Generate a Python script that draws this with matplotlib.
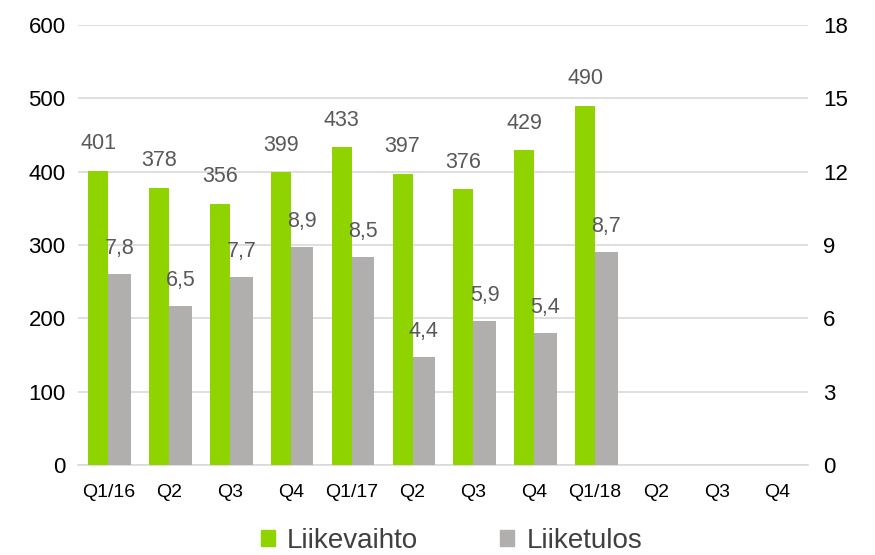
import numpy as np
import matplotlib
matplotlib.use("Agg")
import matplotlib.pyplot as plt
from matplotlib.patches import Patch

plt.rcParams['font.family'] = ['Liberation Sans', 'DejaVu Sans']

kvartaalit = ["Q1/16", "Q2", "Q3", "Q4", "Q1/17", "Q2", "Q3", "Q4", "Q1/18", "Q2", "Q3", "Q4"]
liikevaihto = [401, 378, 356, 399, 433, 397, 376, 429, 490]
liiketulos = [7.8, 6.5, 7.7, 8.9, 8.5, 4.4, 5.9, 5.4, 8.7]

vihrea = "#8fd400"
harmaa = "#b0afad"
tekstiv = "#595959"

fig = plt.figure(figsize=(8.75, 5.55), dpi=100)
ax = fig.add_axes([78/875, 1-465/555, 730/875, 440/555])
ax2 = ax.twinx()

x = np.arange(len(kvartaalit))
w = 0.33
xl = x[:len(liikevaihto)]
ax.bar(xl - w/2, liikevaihto, w, color=vihrea, zorder=3)
ax2.bar(xl + w/2 + 0.02, liiketulos, w + 0.04, color=harmaa, zorder=3)

for xi, v in zip(xl, liikevaihto):
    ax.annotate(str(v), (xi - w/2, v), xytext=(0, 12), textcoords="offset points",
                ha="center", va="bottom", fontsize=15.5, color=tekstiv)
for xi, v in zip(xl, liiketulos):
    ax2.annotate(f"{v:.1f}".replace(".", ","), (xi + w/2 + 0.02, v), xytext=(0, 11),
                 textcoords="offset points", ha="center", va="bottom", fontsize=15.5, color=tekstiv)

ax.set_xlim(-0.5, len(kvartaalit) - 0.5)
ax.set_ylim(0, 600)
ax2.set_ylim(0, 18)
ax.set_yticks(range(0, 601, 100))
ax2.set_yticks(range(0, 19, 3))
ax.set_xticks(x)
ax.set_xticklabels(kvartaalit, fontsize=14)
ax.tick_params(axis="y", length=0, labelsize=16, pad=9)
ax2.tick_params(axis="y", length=0, labelsize=16, pad=11)
ax.tick_params(axis="x", length=0, pad=14)

ax.grid(axis="y", color="#d9d9d9", linewidth=1.2, zorder=0)
ax.set_axisbelow(True)
for a in (ax, ax2):
    for s in a.spines.values():
        s.set_visible(False)
ax.spines["bottom"].set_visible(True)
ax.spines["bottom"].set_color("#d9d9d9")
ax.spines["bottom"].set_linewidth(1.2)

kahvat = [Patch(color=vihrea), Patch(color=harmaa)]
fig.legend(kahvat, ["Liikevaihto", "Liiketulos"], loc="center", bbox_to_anchor=(0.516, 0.025),
           ncol=2, frameon=False, fontsize=20, handlelength=0.5, handleheight=0.5,
           handletextpad=0.45, columnspacing=2.95, labelcolor="#404040")

plt.savefig("out.png", dpi=100)
